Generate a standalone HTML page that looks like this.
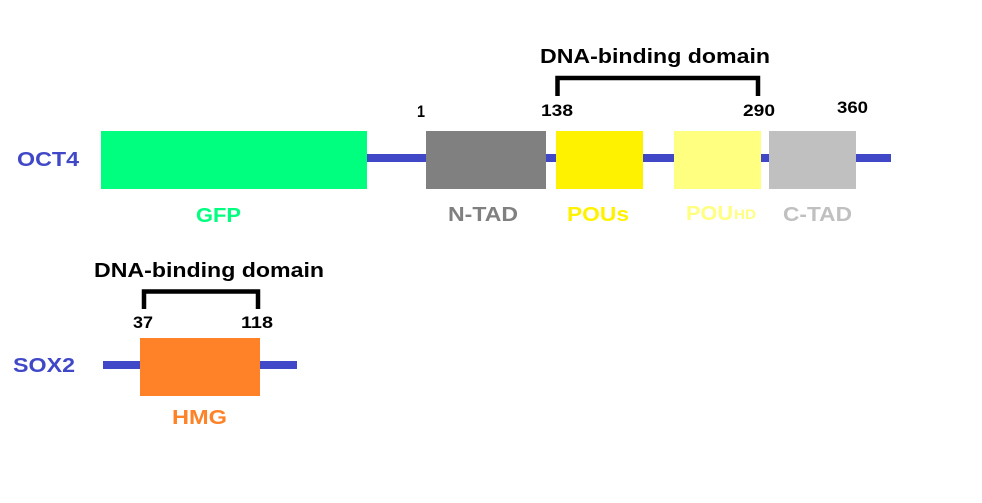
<!DOCTYPE html>
<html><head><meta charset="utf-8"><style>
html,body{margin:0;padding:0;background:#fff;}
svg{display:block;}
text{font-family:"Liberation Sans",Arial,sans-serif;font-weight:bold;}
</style></head><body>
<svg width="982" height="503" viewBox="0 0 982 503" xmlns="http://www.w3.org/2000/svg">
<rect width="982" height="503" fill="#fff"/>
<!-- OCT4 -->
<rect x="101" y="154" width="790" height="8" fill="#4048C8"/>
<rect x="101" y="131" width="266" height="58" fill="#00FF7F"/>
<rect x="426" y="131" width="120" height="58" fill="#808080"/>
<rect x="556" y="131" width="87" height="58" fill="#FFF200"/>
<rect x="674" y="131" width="87" height="58" fill="#FFFF80"/>
<rect x="769" y="131" width="87" height="58" fill="#C0C0C0"/>
<path d="M557.5 96 V78 H758 V96" fill="none" stroke="#000" stroke-width="4.5"/>
<text x="540" y="63" font-size="20" textLength="230" lengthAdjust="spacingAndGlyphs" fill="#000">DNA-binding domain</text>
<text x="417" y="117" font-size="16.5" textLength="8" lengthAdjust="spacingAndGlyphs" fill="#000">1</text>
<text x="541" y="116" font-size="16.5" textLength="32" lengthAdjust="spacingAndGlyphs" fill="#000">138</text>
<text x="743" y="116" font-size="16.5" textLength="32" lengthAdjust="spacingAndGlyphs" fill="#000">290</text>
<text x="837" y="113" font-size="16.5" textLength="31" lengthAdjust="spacingAndGlyphs" fill="#000">360</text>
<text x="17" y="166" font-size="20" textLength="62" lengthAdjust="spacingAndGlyphs" fill="#4048C8">OCT4</text>
<text x="196" y="222" font-size="20.5" textLength="45" lengthAdjust="spacingAndGlyphs" fill="#00FF7F">GFP</text>
<text x="448" y="221" font-size="20.5" textLength="70" lengthAdjust="spacingAndGlyphs" fill="#808080">N-TAD</text>
<text x="567" y="221" font-size="20.5" textLength="62" lengthAdjust="spacingAndGlyphs" fill="#FFF200">POUs</text>
<text x="686" y="220" font-size="20.5" textLength="47" lengthAdjust="spacingAndGlyphs" fill="#FFFF80">POU</text>
<text x="734" y="219" font-size="13.5" textLength="22" lengthAdjust="spacingAndGlyphs" fill="#FFFF80">HD</text>
<text x="783" y="221" font-size="20.5" textLength="69" lengthAdjust="spacingAndGlyphs" fill="#C0C0C0">C-TAD</text>
<!-- SOX2 -->
<rect x="103" y="361" width="194" height="8" fill="#4048C8"/>
<rect x="140" y="338" width="120" height="58" fill="#FF8228"/>
<path d="M144 309 V291.5 H258 V309" fill="none" stroke="#000" stroke-width="4.5"/>
<text x="94" y="277" font-size="20" textLength="230" lengthAdjust="spacingAndGlyphs" fill="#000">DNA-binding domain</text>
<text x="133" y="328" font-size="16.5" textLength="20" lengthAdjust="spacingAndGlyphs" fill="#000">37</text>
<text x="241" y="328" font-size="16.5" textLength="32" lengthAdjust="spacingAndGlyphs" fill="#000">118</text>
<text x="13" y="372" font-size="20" textLength="62" lengthAdjust="spacingAndGlyphs" fill="#4048C8">SOX2</text>
<text x="172" y="424" font-size="20.5" textLength="55" lengthAdjust="spacingAndGlyphs" fill="#FF8228">HMG</text>
</svg>
</body></html>
